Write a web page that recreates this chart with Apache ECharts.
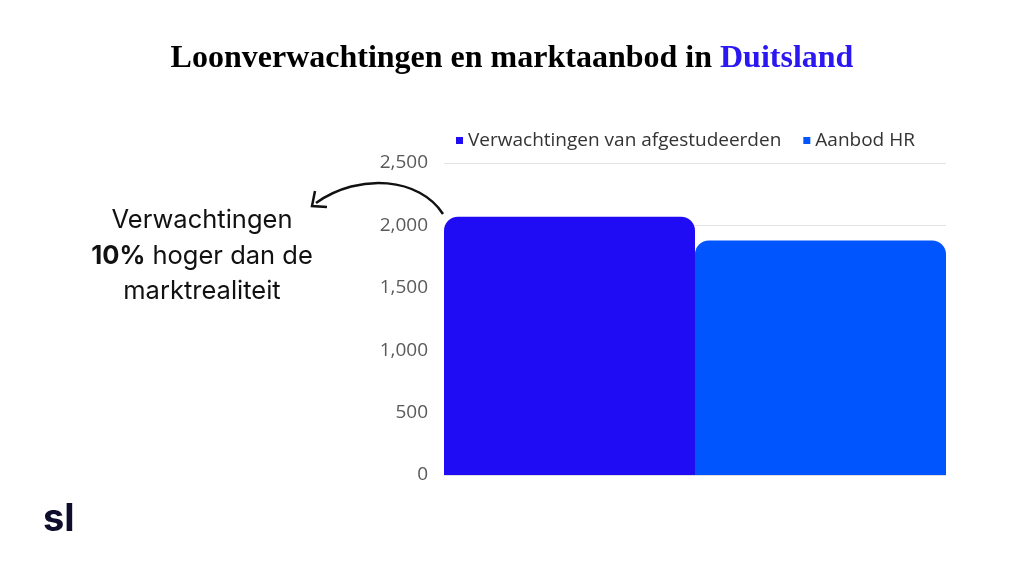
<!DOCTYPE html>
<html><head><meta charset="utf-8">
<script src="https://cdn.jsdelivr.net/npm/echarts@6/dist/echarts.min.js"></script>
<style>html,body{margin:0;padding:0;background:#fff}#c{width:1024px;height:576px}</style>
</head><body><div id="c"></div>
<script>
var categories = ['Duitsland'];
var seriesNames = ['Verwachtingen van afgestudeerden', 'Aanbod HR'];
var expectations = [2070];
var hrOffer = [1880];
var yTicks = [0, 500, 1000, 1500, 2000, 2500];

var chart = echarts.init(document.getElementById('c'));
chart.setOption({
  backgroundColor: '#ffffff',
  animation: false,
  title: {
    text: '{a|Loonverwachtingen en marktaanbod in }{b|Duitsland}',
    left: 'center', top: 38,
    textStyle: {
      rich: {
        a: {fontFamily: 'Liberation Serif', fontWeight: 'bold', fontSize: 32, color: '#000'},
        b: {fontFamily: 'Liberation Serif', fontWeight: 'bold', fontSize: 32, color: '#2a17f2'}
      }
    }
  },
  legend: {
    left: 451, top: 126,
    itemWidth: 7, itemHeight: 7, itemGap: 22,
    icon: 'rect',
    textStyle: {fontFamily: 'Open Sans', fontSize: 19, color: '#333'},
    data: seriesNames
  },
  grid: {left: 444, right: 78, top: 163, bottom: 101},
  xAxis: {
    type: 'category', data: categories,
    axisLine: {show: true, lineStyle: {color: '#dddddd'}},
    axisTick: {show: false}, axisLabel: {show: false}
  },
  yAxis: {
    type: 'value', min: yTicks[0], max: yTicks[yTicks.length - 1], interval: 500,
    axisLine: {show: false}, axisTick: {show: false},
    splitLine: {lineStyle: {color: '#e3e3e3'}},
    axisLabel: {fontFamily: 'Open Sans', fontSize: 19, color: '#5a5a5a', margin: 16,
      formatter: function (v) { return v.toLocaleString('en-US'); }}
  },
  series: [
    {name: seriesNames[0], type: 'bar', data: expectations, barGap: '0%', barCategoryGap: '0%',
      itemStyle: {color: '#200cf4', borderRadius: [14, 14, 0, 0]}},
    {name: seriesNames[1], type: 'bar', data: hrOffer, barGap: '0%', barCategoryGap: '0%',
      itemStyle: {color: '#0055ff', borderRadius: [14, 14, 0, 0]}}
  ],
  graphic: [
    {type: 'text', x: 202, y: 220, style: {text: 'Verwachtingen', fontFamily: 'Inter', fontSize: 25.5, fill: '#111', align: 'center', verticalAlign: 'middle'}},
    {type: 'text', x: 202, y: 256, style: {text: '{b|10%} hoger dan de', fontFamily: 'Inter', fontSize: 25.5, fill: '#111', align: 'center', verticalAlign: 'middle',
      rich: {b: {fontFamily: 'Inter', fontWeight: 'bold', fontSize: 25.5, fill: '#111'}}}},
    {type: 'text', x: 202, y: 291, style: {text: 'marktrealiteit', fontFamily: 'Inter', fontSize: 25.5, fill: '#111', align: 'center', verticalAlign: 'middle'}},
    {type: 'bezierCurve', shape: {x1: 443, y1: 214, cpx1: 420, cpy1: 178, cpx2: 360, cpy2: 172, x2: 316, y2: 203},
      style: {stroke: '#111', lineWidth: 2.5, fill: null}},
    {type: 'polyline', shape: {points: [[315, 191], [312, 206], [327, 207]]},
      style: {stroke: '#111', lineWidth: 2.5, fill: null, lineJoin: 'miter'}},
    {type: 'text', x: 43, y: 520, style: {text: 'sl', fontFamily: 'Inter', fontWeight: 'bold', fontSize: 38, fill: '#0e0e2c', verticalAlign: 'middle'}}
  ]
});
</script></body></html>
